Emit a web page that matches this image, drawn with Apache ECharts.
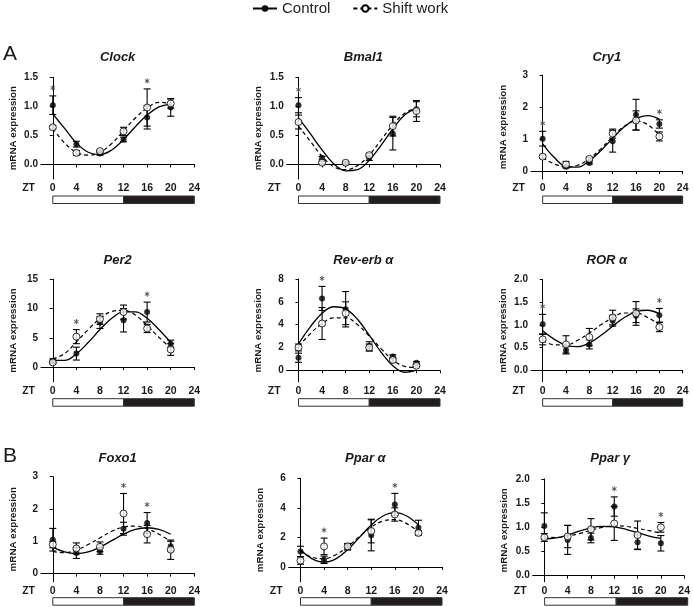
<!DOCTYPE html>
<html>
<head>
<meta charset="utf-8">
<script src="https://cdn.jsdelivr.net/npm/echarts@6/dist/echarts.min.js"></script>
<style>
html,body{margin:0;padding:0;background:#fff;}
#chart{width:693px;height:607px;}
</style>
</head>
<body>
<div id="chart"></div>
<script>
// ---------------- DATA ----------------
const zt = [0, 4, 8, 12, 16, 20];
const fitT = [0, 2, 4, 6, 8, 10, 12, 14, 16, 18, 20];
const xTickLabels = ['0', '4', '8', '12', '16', '20', '24'];
const lightDark = [[0, 12, 0], [12, 24, 1]];
const seriesNames = ['Control', 'Shift work'];
const panelLetters = ['A', 'B'];

const clockCtrl = [1.02, 0.35, 0.19, 0.43, 0.81, 0.98];
const clockCtrlSem = [0.16, 0.05, 0.03, 0.04, 0.20, 0.15];
const clockShift = [0.64, 0.20, 0.23, 0.57, 0.98, 1.05];
const clockShiftSem = [0.03, 0.04, 0.02, 0.07, 0.32, 0.08];
const clockCtrlFit = [0.87, 0.62, 0.37, 0.21, 0.17, 0.25, 0.43, 0.65, 0.85, 0.99, 1.04];
const clockShiftFit = [0.62, 0.37, 0.21, 0.16, 0.21, 0.36, 0.58, 0.80, 0.97, 1.07, 1.05];
const clockStars = [0, 16];
const clockTicks = ['0.0', '0.5', '1.0', '1.5'];

const bmalCtrl = [1.02, 0.11, 0.02, 0.11, 0.53, 0.95];
const bmalCtrlSem = [0.13, 0.03, 0.02, 0.04, 0.28, 0.13];
const bmalShift = [0.73, 0.03, 0.03, 0.16, 0.66, 0.92];
const bmalShiftSem = [0.12, 0.02, 0.02, 0.03, 0.17, 0.18];
const bmalCtrlFit = [0.80, 0.53, 0.25, 0.01, -0.11, -0.09, 0.07, 0.33, 0.61, 0.85, 0.97];
const bmalShiftFit = [0.66, 0.40, 0.14, -0.04, -0.09, -0.02, 0.16, 0.42, 0.68, 0.88, 0.97];
const bmalStars = [0];
const bmalTicks = ['0.0', '0.5', '1.0', '1.5'];

const cryCtrl = [1.01, 0.13, 0.25, 0.93, 1.76, 1.47];
const cryCtrlSem = [0.23, 0.03, 0.03, 0.34, 0.48, 0.13];
const cryShift = [0.45, 0.20, 0.38, 1.17, 1.58, 1.08];
const cryShiftSem = [0.05, 0.10, 0.05, 0.14, 0.30, 0.14];
const cryCtrlFit = [0.85, 0.42, 0.14, 0.12, 0.32, 0.64, 1.02, 1.38, 1.63, 1.73, 1.62];
const cryShiftFit = [0.42, 0.22, 0.13, 0.18, 0.38, 0.70, 1.07, 1.40, 1.56, 1.45, 1.12];
const cryStars = [0, 20];
const cryTicks = ['0', '1', '2', '3'];

const perCtrl = [1.1, 2.3, 7.6, 8.0, 9.4, 4.0];
const perCtrlSem = [0.3, 1.1, 1.0, 2.0, 1.7, 0.6];
const perShift = [0.8, 5.2, 8.2, 9.4, 6.6, 3.0];
const perShiftSem = [0.2, 1.2, 0.9, 1.2, 0.7, 1.0];
const perCtrlFit = [1.15, 1.15, 2.26, 4.19, 6.41, 8.34, 9.45, 9.45, 8.34, 6.41, 4.19];
const perShiftFit = [1.4, 2.3, 4.3, 6.4, 8.3, 9.5, 9.7, 8.9, 7.1, 5.1, 3.2];
const perStars = [4, 16];
const perTicks = ['0', '5', '10', '15'];

const revCtrl = [1.1, 6.3, 5.35, 2.1, 1.2, 0.65];
const revCtrlSem = [0.4, 1.05, 1.55, 0.4, 0.15, 0.1];
const revShift = [2.0, 4.1, 5.0, 2.0, 0.9, 0.4];
const revShiftSem = [0.3, 1.4, 1.0, 0.3, 0.2, 0.1];
const revCtrlFit = [2.32, 3.81, 5.0, 5.57, 5.38, 4.47, 3.08, 1.59, 0.40, -0.17, 0.02];
const revShiftFit = [2.1, 3.2, 4.1, 4.6, 4.6, 4.0, 3.0, 1.9, 0.9, 0.35, 0.25];
const revStars = [4];
const revTicks = ['0', '2', '4', '6', '8'];

const rorCtrl = [1.01, 0.44, 0.57, 1.09, 1.20, 1.21];
const rorCtrlSem = [0.22, 0.08, 0.10, 0.12, 0.15, 0.15];
const rorShift = [0.68, 0.57, 0.73, 1.16, 1.25, 0.95];
const rorShiftSem = [0.12, 0.19, 0.19, 0.16, 0.26, 0.10];
const rorCtrlFit = [0.87, 0.68, 0.55, 0.52, 0.60, 0.77, 0.97, 1.16, 1.29, 1.32, 1.24];
const rorShiftFit = [0.66, 0.56, 0.56, 0.66, 0.82, 1.00, 1.16, 1.26, 1.26, 1.16, 1.00];
const rorStars = [0, 20];
const rorTicks = ['0.0', '0.5', '1.0', '1.5', '2.0'];

const foxCtrl = [1.05, 0.64, 0.70, 1.39, 1.57, 0.85];
const foxCtrlSem = [0.35, 0.17, 0.10, 0.20, 0.32, 0.15];
const foxShift = [0.90, 0.78, 0.83, 1.86, 1.22, 0.74];
const foxShiftSem = [0.10, 0.17, 0.15, 0.62, 0.27, 0.30];
const foxCtrlFit = [0.82, 0.67, 0.62, 0.67, 0.82, 1.02, 1.22, 1.37, 1.42, 1.37, 1.22];
const foxShiftFit = [0.68, 0.65, 0.73, 0.90, 1.11, 1.31, 1.44, 1.47, 1.39, 1.22, 1.00];
const foxStars = [12, 16];
const foxTicks = ['0', '1', '2', '3'];

const ppaCtrl = [1.05, 0.48, 1.34, 2.14, 4.23, 2.66];
const ppaCtrlSem = [0.35, 0.25, 0.20, 1.05, 0.75, 0.50];
const ppaShift = [0.43, 1.39, 1.39, 2.43, 3.55, 2.30];
const ppaShiftSem = [0.25, 0.56, 0.20, 0.80, 0.45, 0.15];
const ppaCtrlFit = [1.16, 0.55, 0.32, 0.55, 1.16, 2.00, 2.84, 3.45, 3.68, 3.45, 2.84];
const ppaShiftFit = [1.07, 0.65, 0.56, 0.83, 1.37, 2.05, 2.69, 3.11, 3.20, 2.93, 2.39];
const ppaStars = [4, 16];
const ppaTicks = ['0', '2', '4', '6'];

const ppgCtrl = [1.03, 0.74, 0.78, 1.43, 0.69, 0.67];
const ppgCtrlSem = [0.27, 0.30, 0.10, 0.20, 0.15, 0.16];
const ppgShift = [0.79, 0.81, 0.96, 1.08, 0.84, 1.00];
const ppgShiftSem = [0.08, 0.23, 0.22, 0.35, 0.29, 0.10];
const ppgCtrlFit = [0.76, 0.78, 0.84, 0.92, 0.99, 1.02, 1.01, 0.96, 0.89, 0.82, 0.77];
const ppgShiftFit = [0.80, 0.79, 0.82, 0.87, 0.94, 1.00, 1.03, 1.02, 0.98, 0.93, 0.88];
const ppgStars = [12, 20];
const ppgTicks = ['0.0', '0.5', '1.0', '1.5', '2.0'];

const titles = ['Clock', 'Bmal1', 'Cry1', 'Per2', 'Rev-erb \u03b1', 'ROR \u03b1', 'Foxo1', 'Ppar \u03b1', 'Ppar \u03b3'];
const yMins = [-0.25, -0.25, -0.25, -2.5, -1, -0.25, -0.25, -1, -0.125];

const panelData = [
  [clockCtrl, clockCtrlSem, clockShift, clockShiftSem, clockCtrlFit, clockShiftFit, clockStars, clockTicks],
  [bmalCtrl, bmalCtrlSem, bmalShift, bmalShiftSem, bmalCtrlFit, bmalShiftFit, bmalStars, bmalTicks],
  [cryCtrl, cryCtrlSem, cryShift, cryShiftSem, cryCtrlFit, cryShiftFit, cryStars, cryTicks],
  [perCtrl, perCtrlSem, perShift, perShiftSem, perCtrlFit, perShiftFit, perStars, perTicks],
  [revCtrl, revCtrlSem, revShift, revShiftSem, revCtrlFit, revShiftFit, revStars, revTicks],
  [rorCtrl, rorCtrlSem, rorShift, rorShiftSem, rorCtrlFit, rorShiftFit, rorStars, rorTicks],
  [foxCtrl, foxCtrlSem, foxShift, foxShiftSem, foxCtrlFit, foxShiftFit, foxStars, foxTicks],
  [ppaCtrl, ppaCtrlSem, ppaShift, ppaShiftSem, ppaCtrlFit, ppaShiftFit, ppaStars, ppaTicks],
  [ppgCtrl, ppgCtrlSem, ppgShift, ppgShiftSem, ppgCtrlFit, ppgShiftFit, ppgStars, ppgTicks]
];

// ---------------- LAYOUT ----------------
// [left(y axis), top(y max), width(to x=24), height(to axis line)]
const layout = [
  [41, 77.3, 153.3, 101.7], [286.7, 77.3, 153.3, 101.7], [531, 75, 151.7, 104],
  [41, 279.3, 153.3, 102.4], [286.7, 279, 153.3, 102.7], [531, 279.3, 151.7, 102.4],
  [41, 476.7, 153.3, 105], [288.7, 478.3, 153.3, 103.4], [532.7, 479, 155, 102.7]
];
const barTops = [196, 398.7, 597.7];
const titleYs = [57.5, 260.5, 458];
const ztYs = [188, 391, 591];

const FONT = '"Liberation Sans", Arial, Helvetica, sans-serif';
const INK = '#1a1a1a';

const grids = [], xAxes = [], yAxes = [], series = [], graphics = [];

function errRender(params, api) {
  const x = api.value(0), lo = api.value(1), hi = api.value(2);
  const a = api.coord([x, lo]), b = api.coord([x, hi]);
  const w = 3.5;
  const st = { stroke: '#000', lineWidth: 1.1 };
  return { type: 'group', children: [
    { type: 'line', shape: { x1: a[0], y1: a[1], x2: b[0], y2: b[1] }, style: st },
    { type: 'line', shape: { x1: a[0] - w, y1: a[1], x2: a[0] + w, y2: a[1] }, style: st },
    { type: 'line', shape: { x1: b[0] - w, y1: b[1], x2: b[0] + w, y2: b[1] }, style: st }
  ]};
}
// asterisk drawn as three short strokes a few pixels above the top of the highest error bar
function starRender(params, api) {
  const p = api.coord([api.value(0), api.value(1)]);
  const cx = p[0], cy = p[1] - 8, r = 2.6;
  const st = { stroke: '#444', lineWidth: 0.9 };
  const kids = [];
  [90, 30, 150].forEach(deg => {
    const a = deg * Math.PI / 180, dx = Math.cos(a) * r, dy = Math.sin(a) * r;
    kids.push({ type: 'line', shape: { x1: cx - dx, y1: cy - dy, x2: cx + dx, y2: cy + dy }, style: st });
  });
  return { type: 'group', children: kids };
}
function barRender(params, api) {
  const a = api.coord([api.value(0), 0]), b = api.coord([api.value(1), 1]);
  const dark = api.value(2) === 1;
  return { type: 'rect', shape: { x: a[0], y: b[1], width: b[0] - a[0], height: a[1] - b[1] },
    style: { fill: dark ? '#221e1f' : '#ffffff', stroke: '#333', lineWidth: 1 } };
}

panelData.forEach((pd, i) => {
  const [ctrl, ctrlSem, shift, shiftSem, ctrlFit, shiftFit, stars, ticks] = pd;
  const [L, T, W, H] = layout[i];
  const row = Math.floor(i / 3);
  const tickVals = ticks.map(Number);
  const yMax = tickVals[tickVals.length - 1];
  const gi = grids.length;
  grids.push({ left: L, top: T, width: W, height: H });
  xAxes.push({
    type: 'value', gridIndex: gi, min: -2, max: 24,
    axisLine: { show: true, lineStyle: { color: '#000', width: 1 } },
    axisTick: { show: true, length: 3, customValues: xTickLabels.map(Number), lineStyle: { color: '#000' } },
    axisLabel: { show: true, customValues: xTickLabels.map(Number), margin: 4,
      fontFamily: FONT, fontWeight: 'bold', fontSize: 10.5, color: INK },
    splitLine: { show: false }
  });
  yAxes.push({
    type: 'value', gridIndex: gi, min: yMins[i], max: yMax,
    axisLine: { show: true, lineStyle: { color: '#000', width: 1 } },
    axisTick: { show: true, length: 3, customValues: tickVals, lineStyle: { color: '#000' } },
    axisLabel: { show: true, customValues: tickVals, margin: 3,
      formatter: v => { const k = tickVals.findIndex(t => Math.abs(t - v) < 1e-9); return k >= 0 ? ticks[k] : ''; },
      fontFamily: FONT, fontWeight: 'bold', fontSize: 10, color: INK },
    splitLine: { show: false },
    name: 'mRNA expression', nameLocation: 'middle', nameGap: 23,
    nameTextStyle: { fontFamily: FONT, fontWeight: 'bold', fontSize: 9.8, color: INK }
  });
  const ax = { xAxisIndex: gi, yAxisIndex: gi };
  series.push(Object.assign({
    type: 'line', name: seriesNames[0], data: fitT.map((t, k) => [t, ctrlFit[k]]), smooth: 0.4,
    showSymbol: false, symbol: 'circle', symbolSize: 7, silent: true, z: 2,
    lineStyle: { color: '#000', width: 1.3, type: 'solid' }, itemStyle: { color: '#000' }
  }, ax));
  series.push(Object.assign({
    type: 'line', name: seriesNames[1], data: fitT.map((t, k) => [t, shiftFit[k]]), smooth: 0.4,
    showSymbol: false, symbol: 'circle', symbolSize: 7, silent: true, z: 2,
    lineStyle: { color: '#000', width: 1.2, type: [4, 3] }, itemStyle: { color: '#fff', borderColor: '#000', borderWidth: 1 }
  }, ax));
  series.push(Object.assign({
    type: 'custom', name: 'ctrlErr', renderItem: errRender, z: 3, silent: true,
    data: zt.map((t, k) => [t, ctrl[k] - ctrlSem[k], ctrl[k] + ctrlSem[k]])
  }, ax));
  series.push(Object.assign({
    type: 'custom', name: 'shiftErr', renderItem: errRender, z: 3, silent: true,
    data: zt.map((t, k) => [t, shift[k] - shiftSem[k], shift[k] + shiftSem[k]])
  }, ax));
  series.push(Object.assign({
    type: 'scatter', name: 'ctrlPts', symbol: 'circle', symbolSize: 6, z: 4, silent: true,
    itemStyle: { color: '#000' }, data: zt.map((t, k) => [t, ctrl[k]])
  }, ax));
  series.push(Object.assign({
    type: 'scatter', name: 'shiftPts', symbol: 'circle', symbolSize: 7, z: 5, silent: true,
    itemStyle: { color: '#fff', borderColor: '#000', borderWidth: 1 }, data: zt.map((t, k) => [t, shift[k]])
  }, ax));
  series.push(Object.assign({
    type: 'custom', name: 'stars', renderItem: starRender, z: 10, silent: true, clip: false,
    data: stars.map(s => { const k = zt.indexOf(s); return [s, Math.max(ctrl[k] + ctrlSem[k], shift[k] + shiftSem[k])]; })
  }, ax));

  // light/dark bar
  const bi = grids.length;
  grids.push({ left: L, top: barTops[row], width: W, height: 7.5 });
  xAxes.push({ type: 'value', gridIndex: bi, min: -2, max: 24, show: false });
  yAxes.push({ type: 'value', gridIndex: bi, min: 0, max: 1, show: false });
  series.push({ type: 'custom', xAxisIndex: bi, yAxisIndex: bi, renderItem: barRender, silent: true, data: lightDark });

  graphics.push({ type: 'text', x: L + W / 2, y: titleYs[row],
    style: { text: titles[i], font: 'italic bold 13px ' + FONT, fill: INK, textAlign: 'center', textVerticalAlign: 'middle' } });
  graphics.push({ type: 'text', x: L - 6, y: ztYs[row],
    style: { text: 'ZT', font: 'bold 10.5px ' + FONT, fill: INK, textAlign: 'right', textVerticalAlign: 'middle' } });
});

graphics.push({ type: 'text', x: 3, y: 54, style: { text: panelLetters[0], font: '21px ' + FONT, fill: INK, textAlign: 'left', textVerticalAlign: 'middle' } });
graphics.push({ type: 'text', x: 3, y: 456, style: { text: panelLetters[1], font: '21px ' + FONT, fill: INK, textAlign: 'left', textVerticalAlign: 'middle' } });

const chart = echarts.init(document.getElementById('chart'), null, { renderer: 'canvas' });
chart.setOption({
  animation: false,
  backgroundColor: '#fff',
  legend: {
    data: seriesNames, top: -4, left: 247, itemWidth: 24, itemHeight: 8, itemGap: 22,
    textStyle: { fontFamily: FONT, fontSize: 15, color: '#222' }
  },
  grid: grids, xAxis: xAxes, yAxis: yAxes, series: series, graphic: graphics
});
</script>
</body>
</html>
